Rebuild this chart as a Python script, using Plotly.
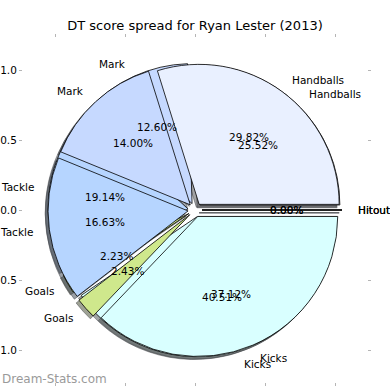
import math
import plotly.graph_objects as go

# ---- data ----
chart_title = "DT score spread for Ryan Lester (2013)"
categories = ["Handballs", "Mark", "Tackle", "Goals", "Kicks", "Hitout"]
share_a = [29.82, 14.00, 16.63, 2.43, 37.12, 0.00]
share_b = [25.52, 12.60, 19.14, 2.23, 40.51, 0.00]
slice_colors = ["#E9F0FF", "#C6D9FF", "#B6D5FF", "#CFE88C", "#D9FFFF", "#DDDDDD"]
tick_vals = [-1.0, -0.5, 0.0, 0.5, 1.0]
tick_text = ["\u22121.0", "\u22120.5", "0.0", "0.5", "1.0"]
watermark = "Dream-Stats.com"

# ---- geometry / style ----
W = H = 390
M_L, M_R, M_T, M_B = 23, 23, 38, 8
PW = W - M_L - M_R
PH = H - M_T - M_B
PX_UNIT = 140.0          # pixels per data unit (pie radius = 1)
EXPLODE = 0.05
SHADOW = 0.02
LIM_X = PW / 2 / PX_UNIT
LIM_Y = PH / 2 / PX_UNIT
FONT = "DejaVu Sans"


def shade(hex_color):
    h = hex_color.lstrip("#")
    r, g, b = (int(h[i:i + 2], 16) for i in (0, 2, 4))
    return f"rgba({int(0.3 * r)},{int(0.3 * g)},{int(0.3 * b)},0.5)"


def pie_trace(values, colors, dx=0.0, dy=0.0, line_color="black", line_width=0.8):
    hx = PX_UNIT * (1 + EXPLODE) / PW
    hy = PX_UNIT * (1 + EXPLODE) / PH
    cx = 0.5 + dx
    cy = 0.5 + dy
    return go.Pie(
        labels=categories[::-1],
        values=values[::-1],
        marker=dict(colors=colors[::-1], line=dict(color=line_color, width=line_width)),
        pull=EXPLODE,
        sort=False,
        direction="clockwise",
        rotation=90,
        textinfo="none",
        hoverinfo="skip",
        showlegend=False,
        domain=dict(x=[cx - hx, cx + hx], y=[cy - hy, cy + hy]),
    )


fig = go.Figure()
# invisible anchor so the cartesian axes (ticks) are drawn
fig.add_trace(go.Scatter(x=[0], y=[0], mode="markers", marker=dict(opacity=0),
                         hoverinfo="skip", showlegend=False))

sdx = -SHADOW * PX_UNIT / PW
sdy = -SHADOW * PX_UNIT / PH
shadow_cols = [shade(c) for c in slice_colors]
fig.add_trace(pie_trace(share_b, shadow_cols, sdx, sdy, line_color="rgba(70,72,76,0.5)", line_width=1))
fig.add_trace(pie_trace(share_a, shadow_cols, sdx, sdy, line_color="rgba(70,72,76,0.5)", line_width=1))
fig.add_trace(pie_trace(share_b, slice_colors))
fig.add_trace(pie_trace(share_a, slice_colors))

annotations = []


def add_texts(values):
    total = sum(values)
    start = 0.0
    for cat, v in zip(categories, values):
        frac = v / total
        t1 = start * 360.0
        t2 = (start + frac) * 360.0
        start += frac
        mid = math.radians((t1 + t2) / 2)
        ox = EXPLODE * math.cos(mid)
        oy = EXPLODE * math.sin(mid)
        lx = ox + 1.1 * math.cos(mid)
        ly = oy + 1.1 * math.sin(mid)
        annotations.append(dict(
            x=lx, y=ly, xref="x", yref="y", text=cat, showarrow=False,
            xanchor="left" if lx > 0 else "right", yanchor="middle",
            font=dict(family=FONT, size=10.5, color="black")))
        px = ox + 0.6 * math.cos(mid)
        py = oy + 0.6 * math.sin(mid)
        annotations.append(dict(
            x=px, y=py, xref="x", yref="y", text=f"{100 * frac:.2f}%", showarrow=False,
            xanchor="center", yanchor="middle",
            font=dict(family=FONT, size=10.5, color="black")))


add_texts(share_b)
add_texts(share_a)

annotations.append(dict(
    x=-M_L / PW, y=(3.0) / PH, xref="paper", yref="paper", text=watermark,
    showarrow=False, xanchor="left", yanchor="middle",
    font=dict(family=FONT, size=12, color="#9a9a9a")))

axis_common = dict(
    tickvals=tick_vals, ticktext=tick_text, ticks="outside", ticklen=3, tickwidth=1,
    tickcolor="#b5b5b5", showgrid=False, zeroline=False, showline=True,
    linecolor="rgba(0,0,0,0)", mirror="ticks", automargin=False, fixedrange=True,
    tickfont=dict(family=FONT, size=10.5, color="black"),
)

fig.update_layout(
    template="none",
    width=W, height=H,
    margin=dict(l=M_L, r=M_R, t=M_T, b=M_B, pad=0),
    paper_bgcolor="white", plot_bgcolor="white",
    font=dict(family=FONT, color="black"),
    title=dict(text=chart_title, x=0.5, xanchor="center", y=1 - 25.5 / H, yanchor="middle",
               font=dict(family=FONT, size=13, color="black")),
    xaxis=dict(range=[-LIM_X, LIM_X], **axis_common),
    yaxis=dict(range=[-LIM_Y, LIM_Y], **axis_common),
    annotations=annotations,
    showlegend=False,
)

fig.write_html(
    "out.html",
    config={"displayModeBar": False, "staticPlot": True},
    post_script="document.body.style.margin='0';document.body.style.padding='0';document.body.style.overflow='hidden';",
)
